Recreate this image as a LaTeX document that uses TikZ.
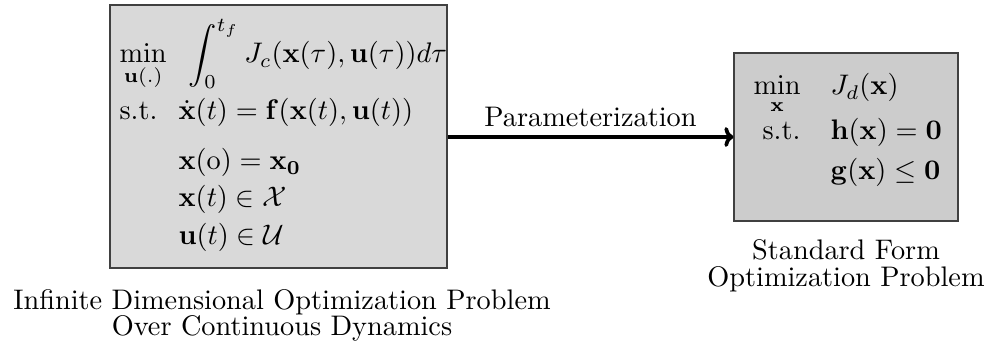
\documentclass[tikz,border=0pt]{standalone}
\usepackage{amsmath,amssymb}
\usetikzlibrary{arrows.meta}
\begin{document}
\begin{tikzpicture}[x=0.3533pt,y=-0.3533pt,
  probbox/.style={draw=black!75,line width=0.6pt},
  mtext/.style={inner sep=0pt,anchor=base west},
  captext/.style={inner sep=0pt,anchor=base},
  conn/.style={line width=1.3pt,-{To[length=3.2pt,width=7pt]}}]
\useasboundingbox (0,0) rectangle (992,354);
% boxes
\draw[probbox,fill=black!15] (110,5) rectangle (447,268);
\node[inner sep=0pt,minimum width=337*0.3533pt,minimum height=263*0.3533pt] (L) at (278.5,136.5) {};
\draw[probbox,fill=black!20] (734,53) rectangle (958,221);
\node[inner sep=0pt,minimum width=224*0.3533pt,minimum height=168*0.3533pt] (R) at (846,137) {};
% left box contents
\node[mtext] (lmin) at (119,63) {$\min\limits_{\mathbf{u}(.)}$};
\node[mtext] (lobj) at (188,63) {$\displaystyle\int_0^{t_f} J_c(\mathbf{x}(\tau),\mathbf{u}(\tau))d\tau$};
\node[mtext] (lst) at (119,120) {s.t.};
\node[mtext] (lc1) at (178,120) {$\dot{\mathbf{x}}(t)=\mathbf{f}(\mathbf{x}(t),\mathbf{u}(t))$};
\node[mtext] (lc2) at (178,170) {$\mathbf{x}(\mathrm{o})=\mathbf{x_0}$};
\node[mtext] (lc3) at (178,207) {$\mathbf{x}(t)\in\mathcal{X}$};
\node[mtext] (lc4) at (178,245) {$\mathbf{u}(t)\in\mathcal{U}$};
% right box contents
\node[mtext] (rmin) at (753,95) {$\min\limits_{\mathbf{x}}$};
\node[mtext] (robj) at (830,95) {$J_d(\mathbf{x})$};
\node[mtext] (rst) at (762,140) {s.t.};
\node[mtext] (rc1) at (830,140) {$\mathbf{h}(\mathbf{x})=\mathbf{0}$};
\node[mtext] (rc2) at (830,180) {$\mathbf{g}(\mathbf{x})\leq\mathbf{0}$};
% connector
\draw[conn] (L.east |- 0,137) -- node[above=2pt,inner sep=1pt] (plab) {Parameterization} (R.west |- 0,137);
% captions
\node[captext] (lcap) at (282,310) {\begin{tabular}[t]{@{}c@{}}Infinite Dimensional Optimization Problem\\[-3pt]Over Continuous Dynamics\end{tabular}};
\node[captext] (rcap) at (846,260) {\begin{tabular}[t]{@{}c@{}}Standard Form\\[-2.5pt]Optimization Problem\end{tabular}};
\end{tikzpicture}
\end{document}
